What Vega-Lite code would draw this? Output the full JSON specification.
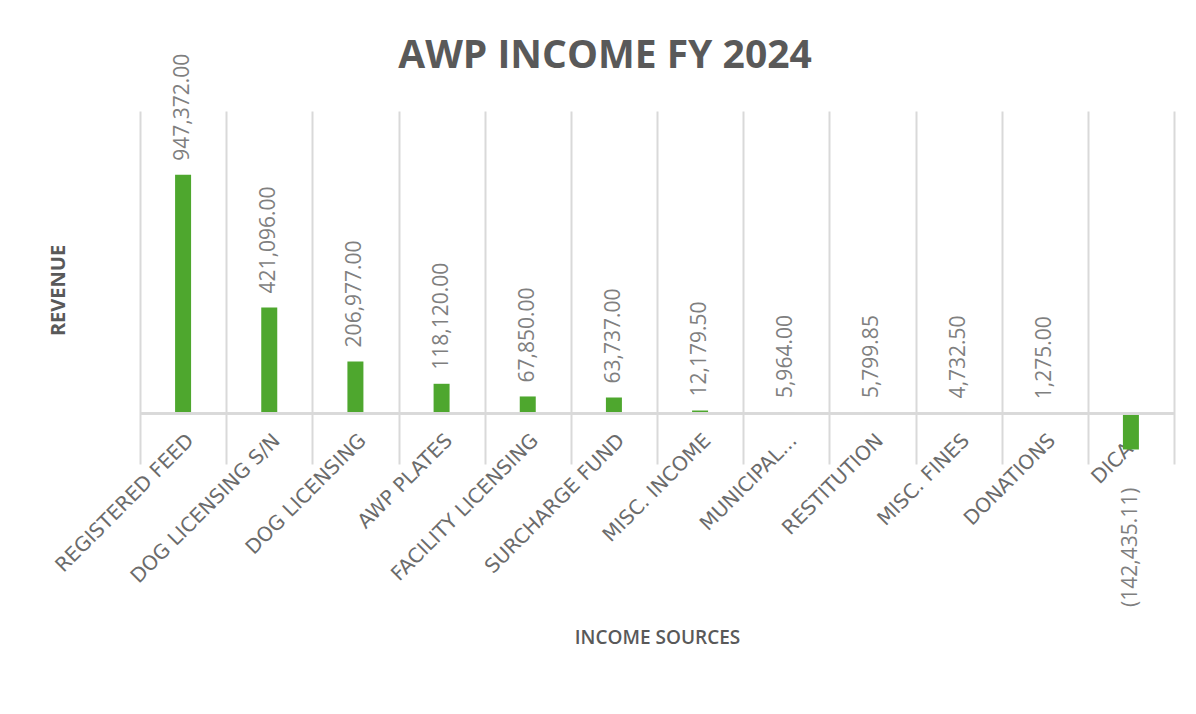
{
  "$schema": "https://vega.github.io/schema/vega-lite/v6.json",
  "width": 1034,
  "height": 353,
  "autosize": {"type": "none"},
  "padding": {"left": 140, "top": 111, "right": 22, "bottom": 250},
  "background": "white",
  "title": {"text": "AWP INCOME FY 2024", "font": "Open Sans", "fontSize": 39, "fontWeight": "bold", "color": "#595959", "anchor": "middle", "dx": -52, "offset": -22},
  "config": {"view": {"stroke": null}},
  "data": {"values": [
    {"source": "REGISTERED FEED", "value": 947372.00},
    {"source": "DOG LICENSING S/N", "value": 421096.00},
    {"source": "DOG LICENSING", "value": 206977.00},
    {"source": "AWP PLATES", "value": 118120.00},
    {"source": "FACILITY LICENSING", "value": 67850.00},
    {"source": "SURCHARGE FUND", "value": 63737.00},
    {"source": "MISC. INCOME", "value": 12179.50},
    {"source": "MUNICIPAL...", "value": 5964.00},
    {"source": "RESTITUTION", "value": 5799.85},
    {"source": "MISC. FINES", "value": 4732.50},
    {"source": "DONATIONS", "value": 1275.00},
    {"source": "DICAP", "value": -142435.11}
  ]},
  "layer": [
    {
      "mark": {"type": "bar", "color": "#4EA72E", "width": 16},
      "encoding": {
        "x": {"field": "source", "type": "nominal", "sort": null,
          "scale": {"paddingInner": 0, "paddingOuter": 0},
          "axis": {"title": "INCOME SOURCES", "titleFont": "Open Sans", "titleFontSize": 19, "titleFontWeight": 600, "titleColor": "#595959",
            "titleX": 517, "titleY": 173, "titleBaseline": "middle", "titleAlign": "center",
            "labelAngle": -45, "labelFont": "DejaVu Sans", "labelFontSize": 20, "labelColor": "#6b6b6b", "labelPadding": -34,
            "labelOverlap": false, "labelLimit": 400,
            "ticks": false, "domain": false, "grid": true, "tickBand": "extent", "gridColor": "#d9d9d9", "gridWidth": 2}},
        "y": {"field": "value", "type": "quantitative", "scale": {"domain": [-200000, 1200000]},
          "axis": {"title": "REVENUE", "titleFont": "Open Sans", "titleFontSize": 20, "titleFontWeight": "bold", "titleColor": "#595959",
            "titleX": -82, "titleY": 179, "titleAlign": "center", "titleBaseline": "middle", "titleAngle": -90,
            "labels": false, "ticks": false, "domain": false, "grid": false}}
      }
    },
    {
      "mark": {"type": "rule", "color": "#d9d9d9", "strokeWidth": 2},
      "encoding": {"y": {"datum": 0, "type": "quantitative"}}
    },
    {
      "transform": [{"filter": "datum.value >= 0"}],
      "mark": {"type": "text", "angle": 270, "align": "left", "baseline": "middle", "dx": 14, "font": "Open Sans", "fontSize": 21, "color": "#7f7f7f"},
      "encoding": {
        "x": {"field": "source", "type": "nominal", "sort": null},
        "y": {"field": "value", "type": "quantitative"},
        "text": {"field": "value", "type": "quantitative", "format": "(,.2f"}
      }
    },
    {
      "transform": [{"filter": "datum.value < 0"}],
      "mark": {"type": "text", "angle": 270, "align": "right", "baseline": "middle", "dx": -38, "font": "Open Sans", "fontSize": 21, "color": "#7f7f7f"},
      "encoding": {
        "x": {"field": "source", "type": "nominal", "sort": null},
        "y": {"field": "value", "type": "quantitative"},
        "text": {"field": "value", "type": "quantitative", "format": "(,.2f"}
      }
    }
  ]
}
